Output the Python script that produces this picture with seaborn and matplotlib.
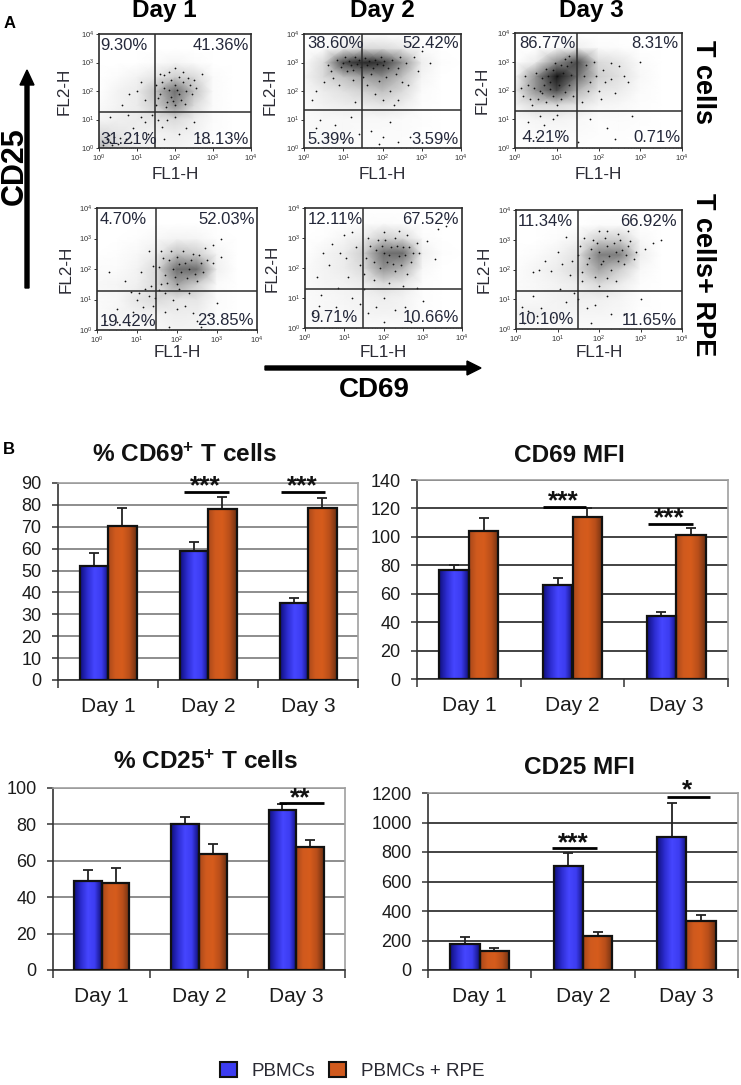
import numpy as np
import pandas as pd
import matplotlib
matplotlib.use("Agg")
import matplotlib.pyplot as plt
from matplotlib.patches import Patch
from matplotlib.colors import LinearSegmentedColormap
import seaborn as sns

sns.set_theme(style="white")
plt.rcParams["font.family"] = ["Liberation Sans", "DejaVu Sans"]
plt.rcParams["mathtext.fontset"] = "custom"
plt.rcParams["mathtext.rm"] = "Liberation Sans"
plt.rcParams["mathtext.bf"] = "Liberation Sans:bold"
plt.rcParams["mathtext.default"] = "regular"

W, H = 741, 1085
INK = "#1c1c1c"

# ---------- bar chart data ----------
days = ["Day 1", "Day 2", "Day 3"]
groups = ["PBMCs", "PBMCs + RPE"]

cd69_pct_pbmc = [52, 59, 35]
cd69_pct_rpe = [70.5, 78, 78.5]
cd69_pct_pbmc_err = [6, 4, 2.5]
cd69_pct_rpe_err = [8, 5.5, 4.5]

cd69_mfi_pbmc = [77, 66, 44]
cd69_mfi_rpe = [104, 114, 101]
cd69_mfi_pbmc_err = [3, 5, 3]
cd69_mfi_rpe_err = [9.5, 6, 5]

cd25_pct_pbmc = [49, 80, 88]
cd25_pct_rpe = [48, 63.5, 67.5]
cd25_pct_pbmc_err = [6, 4, 3]
cd25_pct_rpe_err = [8, 5.5, 4]

cd25_mfi_pbmc = [175, 705, 905]
cd25_mfi_rpe = [130, 232, 335]
cd25_mfi_pbmc_err = [50, 90, 230]
cd25_mfi_rpe_err = [22, 23, 35]

# ---------- flow panel data: quadrant labels ----------
t_cells_pct = [["9.30%", "41.36%", "31.21%", "18.13%"],
               ["38.60%", "52.42%", "5.39%", "3.59%"],
               ["86.77%", "8.31%", "4.21%", "0.71%"]]
t_rpe_pct = [["4.70%", "52.03%", "19.42%", "23.85%"],
             ["12.11%", "67.52%", "9.71%", "10.66%"],
             ["11.34%", "66.92%", "10.10%", "11.65%"]]

# Estimated event density, on half-decade nodes
# (rows: FL2 = 4 ... 0, columns: FL1 = 0 ... 4)
density_d1 = [[0,0,0,0,0,0,0,0,0],[0,0,0,0,0,0,0,0,0],
              [0,0,0,.2,.4,.2,0,0,0],[0,.2,.5,1,2,1.5,.2,0,0],
              [0,.5,.8,2.5,5,2.5,.2,0,0],[.2,.5,.8,2,4,1.5,.2,0,0],
              [.4,.6,.8,1,1.5,.7,.2,0,0],[1.5,1,.6,.5,.7,.5,.1,0,0],
              [3,1.5,.7,.5,.5,.3,.1,0,0]]
density_d2 = [[0,0,0,0,0,0,0,0,0],[0,.2,.8,1.5,1.5,1,.2,0,0],
              [.2,1.5,6,8,7,4,.7,.1,0],[.4,1.5,2.5,3.5,4,2.5,.4,0,0],
              [.3,.8,1.2,1.8,2.5,1.5,.2,0,0],[.2,.5,.7,.8,1,.7,.1,0,0],
              [.2,.3,.3,.3,.3,.2,.1,0,0],[.2,.3,.3,.2,.2,.2,.05,0,0],
              [.2,.2,.2,.2,.2,.1,0,0,0]]
density_d3 = [[0,0,0,0,0,0,0,0,0],[0,0,.2,.6,.2,.1,0,0,0],
              [0,.8,4,6,1.5,1,.2,0,0],[.3,4,9,5,2,1.2,.3,0,0],
              [.8,4,6,3,1,.8,.2,0,0],[.5,1.5,1.5,1,.4,.3,.1,0,0],
              [.2,.4,.5,.3,.1,.2,.1,0,0],[.1,.2,.2,.2,.1,.1,.05,0,0],
              [0,.1,.1,.1,.1,.1,0,0,0]]
density_r1 = [[0,0,0,0,0,0,0,0,0],[0,0,0,0,0,0,0,0,0],
              [0,0,.1,.3,.5,.4,.1,0,0],[0,.1,.3,.8,2.5,2,.4,0,0],
              [.2,.2,.5,1.5,5,5,.6,0,0],[.3,.4,.6,1.5,3.5,2,.2,0,0],
              [.2,.3,1,1.5,1,1,.2,0,0],[.2,.4,.5,.5,.7,.6,.1,0,0],
              [.4,.3,.3,.3,.5,.4,.1,0,0]]
density_r2 = [[0,0,0,0,0,0,0,0,0],[0,0,0,.1,.2,.1,0,0,0],
              [0,.1,.4,.8,2,1.5,.2,0,0],[0,.4,.8,2,5,5,.6,.1,0],
              [.2,.5,.8,1.5,4,3,.3,0,0],[.2,.4,.5,.8,1.5,1,.1,0,0],
              [.2,.3,.4,.5,.7,.5,.1,0,0],[.2,.3,.3,.4,.5,.4,.1,0,0],
              [.1,.1,.1,.2,.2,.2,0,0,0]]
density_r3 = [[0,0,0,0,0,0,0,0,0],[0,0,0,0,.2,.2,0,0,0],
              [0,0,.2,.5,2,2,.3,0,0],[0,.2,.5,1.2,4.5,4.5,.7,0,0],
              [.1,.4,.8,1.5,3.5,2,.3,0,0],[.2,.3,.5,.8,1.5,.8,.1,0,0],
              [.3,.3,.5,.6,.6,.4,.1,0,0],[.5,.6,.4,.4,.4,.3,.05,0,0],
              [.2,.2,.2,.2,.2,.1,0,0,0]]

# Individual events (a sample, in decades of FL1, FL2)
dots_d1 = [(1.7,2.1),(1.9,1.8),(2.0,2.2),(2.1,1.9),(1.8,1.6),(2.2,2.3),(2.0,1.5),(2.3,2.0),(1.6,1.9),(2.1,2.5),
           (1.9,2.4),(2.4,2.2),(2.5,2.4),(1.6,2.6),(2.0,2.8),(1.1,2.3),(0.8,1.9),(1.2,1.7),(0.6,1.5),(1.0,2.0),
           (2.0,1.1),(1.8,1.0),(2.3,0.7),(2.6,0.4),(2.9,0.2),(0.2,0.3),(0.3,0.2),(0.4,0.4),(0.5,0.15),(0.7,0.3),
           (1.2,0.9),(1.3,0.5),(0.9,0.7),(1.7,0.3),(2.1,0.5),(2.7,2.6),
           (1.55,1.75),(1.65,2.3),(1.75,1.45),(1.85,2.05),(1.95,1.65),(2.05,2.05),(2.15,1.7),(2.25,1.55),(2.35,2.45),
           (1.7,2.55),(1.85,2.65),(2.2,2.65),(2.45,1.9),(2.55,2.1),(1.5,2.2),(1.5,1.5),(1.4,1.15),(1.55,1.0),(1.65,0.75),
           (0.1,0.1),(0.25,0.45),(0.35,0.1),(0.55,0.35),(0.85,0.2),(1.0,0.45),(1.1,1.1),(0.3,1.1),(0.75,1.15),(2.5,0.9)]
dots_d2 = [(1.0,3.0),(1.2,2.9),(1.4,3.1),(1.6,2.9),(1.8,3.1),(2.0,2.9),(1.3,3.2),(1.1,2.7),(1.7,2.6),(2.1,2.5),
           (2.4,2.8),(2.6,3.0),(2.8,3.2),(2.9,2.7),(2.5,2.3),(2.2,2.0),(1.8,1.9),(0.7,2.7),(0.5,2.3),(0.3,2.0),
           (0.9,2.2),(0.2,1.7),(1.3,1.6),(2.4,1.7),(0.4,1.0),(0.8,0.8),(1.2,1.1),(1.7,0.6),(2.2,0.9),(2.7,0.4),
           (0.6,0.4),(1.0,0.2),(1.9,0.15),(3.0,3.4),(2.3,1.5),(3.2,3.0),
           (0.85,3.1),(0.95,2.85),(1.05,3.2),(1.15,3.05),(1.25,2.75),(1.35,2.95),(1.45,2.85),(1.55,3.15),(1.65,3.05),
           (1.75,2.8),(1.85,2.95),(1.95,3.2),(2.05,3.05),(2.15,2.8),(2.25,3.1),(2.35,2.6),(2.45,3.2),(1.5,2.5),(1.9,2.35),
           (1.25,2.4),(0.75,2.45),(0.6,2.9),(1.6,2.2),(2.0,1.7),(2.65,2.2),(0.3,0.7),(1.4,0.5),(2.4,0.2),(2.0,0.4)]
dots_d3 = [(0.9,2.7),(1.0,2.5),(0.8,2.5),(1.1,2.9),(1.2,3.1),(1.3,3.2),(0.7,2.2),(0.6,2.0),(0.5,2.6),(0.3,2.2),
           (0.2,1.8),(0.9,1.8),(1.1,1.7),(1.3,2.2),(0.4,1.5),(1.7,2.9),(1.9,3.0),(2.1,2.7),(2.3,2.4),(1.8,2.3),
           (2.0,2.0),(2.4,1.9),(2.6,2.5),(2.7,2.3),(1.6,1.6),(0.3,0.9),(0.6,1.1),(0.9,1.0),(1.1,0.6),(0.5,0.4),
           (1.8,1.0),(2.2,0.7),(2.4,0.3),(3.0,3.0),(1.5,0.2),(2.8,1.1),
           (0.65,2.45),(0.75,2.75),(0.85,2.3),(0.95,2.95),(1.05,2.2),(1.15,2.6),(1.25,2.85),(1.35,2.55),(0.45,2.1),(0.55,1.7),
           (0.65,1.9),(0.75,1.6),(0.85,2.05),(1.0,1.5),(1.2,1.95),(1.4,1.8),(0.25,2.5),(0.15,2.1),(0.35,1.7),(1.35,3.0),
           (1.65,2.5),(1.75,2.0),(1.95,2.5),(2.15,2.3),(2.05,1.7),(0.7,0.8),(1.0,1.15),(0.2,0.35),(2.5,2.85),(2.3,2.95)]
dots_r1 = [(1.9,2.0),(2.1,1.9),(2.2,2.2),(2.0,2.4),(2.3,2.0),(2.4,2.5),(1.7,1.8),(1.8,2.3),(2.6,2.2),(2.7,2.7),
           (2.9,2.8),(3.1,3.0),(1.6,2.6),(2.5,1.6),(2.0,1.5),(1.6,1.5),(1.3,2.6),(1.1,1.9),(0.7,1.6),(0.3,1.9),
           (1.0,1.0),(1.3,1.1),(1.4,0.8),(0.9,0.6),(0.5,0.7),(0.2,0.3),(1.9,1.0),(2.2,0.8),(2.5,0.3),(2.8,0.5),
           (3.0,0.9),(1.8,0.1),(2.6,0.1),(1.2,0.2),(2.3,1.2),(3.4,3.5),
           (1.55,2.05),(1.65,2.35),(1.75,1.55),(1.85,2.6),(1.95,1.75),(2.05,2.15),(2.15,2.6),(2.25,1.7),(2.35,2.3),(2.45,1.85),
           (2.55,2.45),(2.65,1.9),(2.75,2.3),(2.05,1.35),(1.7,1.2),(1.55,1.3),(1.2,1.35),(1.05,1.2),(1.35,1.45),(1.45,1.05),
           (0.85,1.25),(1.15,0.75),(1.7,0.6),(2.0,0.7),(2.4,0.55),(0.5,0.25),(0.8,0.15),(3.1,2.4),(2.9,2.2),(1.4,2.1)]
dots_r2 = [(2.0,2.5),(2.2,2.7),(2.4,2.4),(2.1,2.2),(2.5,2.7),(1.8,2.6),(2.3,3.0),(2.6,3.1),(1.9,2.0),(2.3,1.9),
           (2.7,2.2),(2.9,2.5),(3.1,2.9),(3.4,3.3),(3.3,2.3),(1.6,3.0),(1.2,3.2),(0.9,2.5),(0.6,2.1),(0.3,1.7),
           (1.1,1.7),(1.4,2.1),(0.4,1.1),(0.8,0.7),(1.2,1.0),(1.6,0.5),(2.0,1.0),(2.3,0.6),(2.7,0.2),(3.0,0.9),
           (0.2,0.5),(1.5,1.3),(2.5,1.4),(3.6,3.4),(1.0,3.1),(2.0,0.2),
           (1.55,2.35),(1.65,2.75),(1.75,2.2),(1.85,2.95),(1.95,2.75),(2.05,2.95),(2.15,2.45),(2.25,2.15),(2.35,2.75),(2.45,2.1),
           (2.55,2.45),(2.65,2.7),(2.75,2.5),(2.85,2.85),(2.0,3.2),(2.4,3.25),(1.5,1.8),(1.75,1.6),(2.15,1.5),(2.6,1.8),
           (1.3,2.7),(0.7,2.8),(0.45,2.5),(1.05,2.35),(0.85,1.35),(0.35,0.75),(1.4,0.8),(1.8,0.7),(2.55,0.7),(2.85,1.35)]
dots_r3 = [(2.0,2.6),(2.2,2.8),(2.4,2.6),(2.1,2.3),(1.8,2.7),(2.5,3.0),(2.7,2.8),(1.7,2.2),(2.3,2.0),(2.6,2.2),
           (2.9,2.6),(3.1,2.7),(3.3,2.9),(2.2,3.3),(2.7,3.3),(1.2,3.1),(1.5,2.5),(1.1,2.2),(0.7,2.3),(0.4,1.9),
           (1.3,1.8),(1.6,1.6),(0.3,0.6),(0.6,0.7),(0.9,0.4),(0.4,1.1),(1.5,1.0),(1.9,0.8),(2.2,1.1),(2.6,0.5),
           (3.0,1.0),(1.8,0.2),(2.4,1.6),(1.2,0.9),(3.5,3.0),(0.2,0.2),
           (1.55,2.8),(1.65,3.05),(1.75,2.4),(1.85,3.0),(1.95,2.9),(2.05,2.2),(2.15,3.05),(2.25,2.45),(2.35,2.9),(2.45,2.3),
           (2.55,2.65),(2.65,2.5),(2.75,2.95),(2.85,2.35),(2.0,3.3),(2.45,3.2),(1.6,1.9),(1.9,1.75),(2.2,1.7),(2.0,1.45),
           (1.35,2.3),(0.85,1.95),(1.0,2.6),(0.55,2.0),(1.05,1.35),(1.4,1.2),(1.7,0.7),(2.3,0.5),(0.5,0.45),(0.15,0.75)]

# ---------- layout ----------
fig = plt.figure(figsize=(W / 100, H / 100), dpi=100, facecolor="white")
def px_axes(l, t, r, b):
    return fig.add_axes([l / W, 1 - b / H, (r - l) / W, (b - t) / H])
def px_text(x, y, s, **kw):
    kw.setdefault("ha", "center"); kw.setdefault("va", "center"); kw.setdefault("color", "black")
    return fig.text(x / W, 1 - y / H, s, **kw)

flow_cmap = LinearSegmentedColormap.from_list("flow", ["#ffffff", "#b4b4b4", "#4a4a4a", "#141414"])
nodes = 10.0 ** np.arange(0, 4.5, 0.5)

flow_panels = [
    dict(box=(99, 34, 251, 148), q=(1.47, 1.26), d=density_d1, pts=dots_d1, pct=t_cells_pct[0],
         lab=((100, 45), (249, 45), (100, 140), (249, 140)), xl=19, yl=27),
    dict(box=(304, 34, 461, 148), q=(1.48, 1.33), d=density_d2, pts=dots_d2, pct=t_cells_pct[1],
         lab=((307, 43), (459, 44), (307, 140), (459, 140)), xl=19, yl=26),
    dict(box=(515, 33, 682, 148), q=(1.49, 1.29), d=density_d3, pts=dots_d3, pct=t_cells_pct[2],
         lab=((519, 44), (678, 44), (523, 138), (680, 138)), xl=19, yl=25),
    dict(box=(97, 208, 257, 330), q=(1.47, 1.28), d=density_r1, pts=dots_r1, pct=t_rpe_pct[0],
         lab=((100, 219), (255, 220), (100, 322), (254, 320)), xl=15, yl=23),
    dict(box=(305, 208, 462, 328), q=(1.48, 1.30), d=density_r2, pts=dots_r2, pct=t_rpe_pct[1],
         lab=((308, 219), (459, 219), (310, 317), (459, 317)), xl=17, yl=25),
    dict(box=(516, 210, 682, 329), q=(1.49, 1.28), d=density_r3, pts=dots_r3, pct=t_rpe_pct[2],
         lab=((518, 222), (677, 221), (518, 319), (677, 320)), xl=16, yl=24),
]

for p in flow_panels:
    l, t, r, b = p["box"]
    ax = px_axes(l, t, r, b)
    ax.set_xscale("log"); ax.set_yscale("log")
    ax.pcolormesh(nodes, nodes, np.array(p["d"])[::-1], shading="gouraud", cmap=flow_cmap, vmin=0, vmax=9, zorder=1)
    sx, sy = zip(*p["pts"])
    sns.scatterplot(x=10.0 ** np.array(sx), y=10.0 ** np.array(sy), ax=ax, s=1.6, color="#111111",
                    linewidth=0, legend=False, zorder=2)
    ax.set_xlim(1, 1e4); ax.set_ylim(1, 1e4)
    ax.axvline(10 ** p["q"][0], color="#2c2c2c", lw=1.1, zorder=3)
    ax.axhline(10 ** p["q"][1], color="#2c2c2c", lw=1.1, zorder=3)
    for s in ax.spines.values():
        s.set_visible(True); s.set_color("#2c2c2c"); s.set_linewidth(1.2)
    ticks = [1, 10, 100, 1000, 10000]
    labels = [f"$10^{{{i}}}$" for i in range(5)]
    ax.set_xticks(ticks, labels); ax.set_yticks(ticks, labels)
    ax.tick_params(axis="both", which="major", labelsize=5.5, length=2, width=0.7, pad=1.5, colors="#333333",
                   bottom=True, left=True, direction="out")
    ax.tick_params(axis="both", which="minor", length=1, width=0.4, bottom=True, left=True, direction="in", colors="#333333")
    ax.set_xlabel("FL1-H", fontsize=12.3, color="#2a2a33")
    ax.set_ylabel("FL2-H", fontsize=12.3, color="#2a2a33")
    ax.xaxis.set_label_coords(0.5, -p["xl"] / (b - t))
    ax.yaxis.set_label_coords(-p["yl"] / (r - l), 0.5)
    for i, (txt, (x, y)) in enumerate(zip(p["pct"], p["lab"])):
        px_text(x, y, txt, ha="left" if i % 2 == 0 else "right", fontsize=12, color="#24283a", zorder=5)

# Panel A headings and arrows
for x, d in zip((164, 382, 591), days):
    px_text(x, 10, d, fontsize=17.5, fontweight="bold")
px_text(10, 24, "A", fontsize=12, fontweight="bold", ha="center")
px_text(9, 450, "B", fontsize=12, fontweight="bold", ha="center")
px_text(15, 166, "CD25", fontsize=22, fontweight="bold", rotation=90)
px_text(374, 390, "CD69", fontsize=20, fontweight="bold")
px_text(703, 82, "T cells", fontsize=19.5, fontweight="bold", rotation=-90)
px_text(703, 275, "T cells+ RPE", fontsize=19.5, fontweight="bold", rotation=-90)
fig.add_artist(matplotlib.patches.FancyArrow(27 / W, 1 - 288 / H, 0, 218 / H, width=4 / W, head_width=14 / W,
               head_length=15 / H, length_includes_head=True, color="black", transform=fig.transFigure))
fig.add_artist(matplotlib.patches.FancyArrow(265 / W, 1 - 368 / H, 216 / W, 0, width=4 / H, head_width=14 / H,
               head_length=14 / W, length_includes_head=True, color="black", transform=fig.transFigure))

# ---------- bar charts ----------
blue_grad = LinearSegmentedColormap.from_list("b", ["#10107e", "#2c2cd0", "#4646ff", "#3c3cf0", "#101078"])
orange_grad = LinearSegmentedColormap.from_list("o", ["#a8481a", "#d05a1e", "#d65c1c", "#b84e1a", "#6e3012"])
ramp = np.linspace(0, 1, 64).reshape(1, -1)

def bar_panel(box, pbmc, rpe, pbmc_err, rpe_err, ymax, yticks, grid, sigs, title, title_xy):
    l, t, r, b = box
    ax = px_axes(l, t, r, b)
    df = pd.DataFrame({
        "day": days * 2,
        "group": [groups[0]] * 3 + [groups[1]] * 3,
        "value": list(pbmc) + list(rpe),
    })
    sns.barplot(data=df, x="day", y="value", hue="group", hue_order=groups, order=days, ax=ax, width=0.57, gap=0,
                dodge=True, legend=False, errorbar=None, fill=False, edgecolor="#111111", linewidth=1.6,
                palette=["#111111", "#111111"], zorder=4)
    for cont, cm, err in zip(ax.containers, (blue_grad, orange_grad), (pbmc_err, rpe_err)):
        xs, vals = [], []
        for bar in cont:
            x0, w, h = bar.get_x(), bar.get_width(), bar.get_height()
            ax.imshow(ramp, extent=(x0, x0 + w, 0, h), aspect="auto", cmap=cm, zorder=3, interpolation="bilinear")
            xs.append(x0 + w / 2); vals.append(h)
        ax.errorbar(xs, vals, yerr=[np.zeros(3), err], fmt="none", ecolor="#222222", elinewidth=1.3,
                    capsize=3.5, capthick=1.3, zorder=3.5)
    ax.set_xlim(-0.5, 2.5); ax.set_ylim(0, ymax)
    ax.set_xlabel(""); ax.set_ylabel("")
    ax.set_yticks(yticks)
    ax.set_axisbelow(True)
    ax.yaxis.grid(True, color=grid, lw=1.2, zorder=1)
    ax.xaxis.grid(False)
    ax.set_xticks([0, 1, 2], days)
    ax.set_xticks([-0.5, 0.5, 1.5, 2.5], minor=True)
    ax.tick_params(axis="x", which="major", length=0, labelsize=15, pad=12.5, labelcolor=INK, bottom=False)
    ax.tick_params(axis="x", which="minor", length=5.5, width=1.1, color="#333333", bottom=True, direction="out")
    ax.tick_params(axis="y", length=4.3, width=1.1, color="#333333", labelsize=13, pad=7.5, labelcolor=INK, left=True)
    for side, col in (("left", "#333333"), ("bottom", "#333333"), ("top", "#a0a0a0"), ("right", "#a0a0a0")):
        ax.spines[side].set_visible(True); ax.spines[side].set_color(col); ax.spines[side].set_linewidth(1.2)
    for x0, x1, y, stars, ystar in sigs:
        ax.plot([x0, x1], [y, y], color="black", lw=2, solid_capstyle="butt", zorder=6)
        ax.annotate(stars, ((x0 + x1) / 2 - 0.01, ystar), xytext=(0, -3), textcoords="offset points",
                    ha="center", va="center", fontsize=19, fontweight="bold",
                    color="#111111", zorder=6, annotation_clip=False)
    px_text(*title_xy, title, fontsize=17.6, fontweight="bold", color="#111111")
    return ax

bar_panel((58, 483, 358, 680), cd69_pct_pbmc, cd69_pct_rpe, cd69_pct_pbmc_err, cd69_pct_rpe_err, 90,
          range(0, 91, 10), "#7a7a7a",
          [(0.764, 1.21, 85.7, "***", 90.4), (1.73, 2.17, 85.7, "***", 90.4)],
          "% CD69$^{\\mathbf{+}}$ T cells", (185, 455))
bar_panel((417, 480, 728, 679), cd69_mfi_pbmc, cd69_mfi_rpe, cd69_mfi_pbmc_err, cd69_mfi_rpe_err, 140,
          range(0, 141, 20), "#222222",
          [(0.715, 1.13, 120.8, "***", 128), (1.73, 2.16, 108.9, "***", 116)],
          "CD69 MFI", (569, 455))
bar_panel((53, 788, 345, 970), cd25_pct_pbmc, cd25_pct_rpe, cd25_pct_pbmc_err, cd25_pct_rpe_err, 100,
          range(0, 101, 20), "#7a7a7a",
          [(1.82, 2.28, 91.9, "**", 96.6)],
          "% CD25$^{\\mathbf{+}}$ T cells", (206, 762))
bar_panel((428, 793, 738, 970), cd25_mfi_pbmc, cd25_mfi_rpe, cd25_mfi_pbmc_err, cd25_mfi_rpe_err, 1200,
          range(0, 1201, 200), "#222222",
          [(0.70, 1.135, 829, "***", 890), (1.81, 2.23, 1175, "*", 1245)],
          "CD25 MFI", (579, 767))

handles = [Patch(facecolor="#3c3cf0", edgecolor="#111111", linewidth=1.5),
           Patch(facecolor="#d05a1e", edgecolor="#111111", linewidth=1.5)]
fig.legend(handles, groups, loc="center", bbox_to_anchor=(352 / W, 1 - 1071 / H), ncol=2, frameon=False,
           fontsize=13.6, handlelength=0.9, handleheight=0.85, handletextpad=0.8, columnspacing=0.7,
           labelcolor="#2a2a33", borderpad=0, borderaxespad=0)

fig.savefig("out.png", dpi=100, facecolor="white")
